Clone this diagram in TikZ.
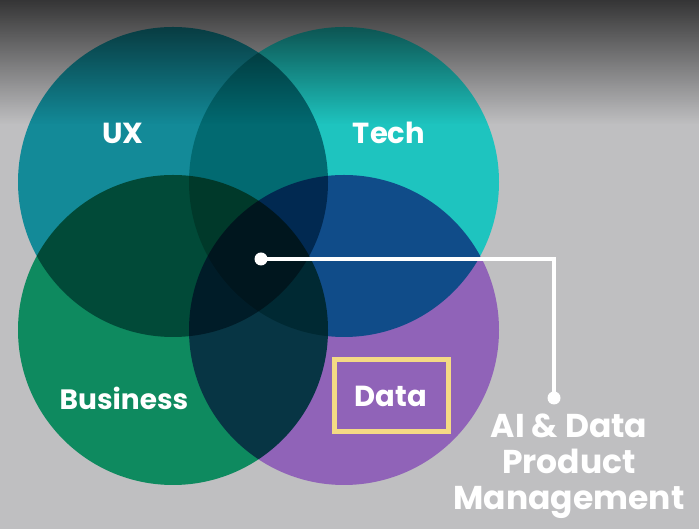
\documentclass[tikz,border=0pt]{standalone}
\usepackage{fontspec}
\setmainfont{Poppins}
\usetikzlibrary{fadings}
\definecolor{vdux}{HTML}{138A98}
\definecolor{vdtech}{HTML}{1EC4BF}
\definecolor{vdbiz}{HTML}{0E8A5F}
\definecolor{vddata}{HTML}{9063B8}
\definecolor{vdbg}{HTML}{BFBFC1}
\definecolor{vdgold}{HTML}{F4DA84}
\tikzfading[name=vdtop, top color=transparent!0, middle color=transparent!78, bottom color=transparent!100]
\tikzset{
  venn/.style={circle, minimum size=310pt, inner sep=0pt},
  setlabel/.style={text=white, font=\fontsize{29}{34}\selectfont\bfseries},
  pmdot/.style={circle, fill=white, minimum size=13pt, inner sep=0pt},
}

\begin{document}
\begin{tikzpicture}[x=1pt, y=1pt]
  \useasboundingbox (0,0) rectangle (699,529);
  \fill[vdbg] (0,0) rectangle (699,529);
  % the four sets, multiplied where they overlap
  \begin{scope}[transparency group=isolated]
    \begin{scope}[blend mode=multiply]
      \node[venn, fill=vdux] (ux) at (173,347) {};
      \node[venn, fill=vdtech] (tech) at (344,347) {};
      \node[venn, fill=vdbiz] (biz) at (173,199) {};
      \node[venn, fill=vddata] (data) at (344,199) {};
    \end{scope}
  \end{scope}
  \fill[black, opacity=0.72, path fading=vdtop] (0,405) rectangle (699,529);

  \node[setlabel] (uxlbl) at (123,396) {UX};
  \node[setlabel] (techlbl) at (389,396) {Tech};
  \node[setlabel, font=\fontsize{28}{34}\selectfont\bfseries] (bizlbl) at (124,131) {Business};
  \node[setlabel, draw=vdgold, line width=5pt, minimum width=114pt, minimum height=72pt] (datalbl) at (391,133) {Data};

  \node[pmdot] (hub) at (261,270) {};
  \node[pmdot] (pmend) at (554,131) {};
  \draw[white, line width=4.5pt] (hub.center) -- (hub.center -| pmend.center) -- (pmend.center);
  \node[text=white, align=center, anchor=north, inner sep=0pt, font=\fontsize{33}{36}\selectfont\bfseries] (pmlbl) at (569,115) {AI \& Data\\Product\\Management};
\end{tikzpicture}
\end{document}
